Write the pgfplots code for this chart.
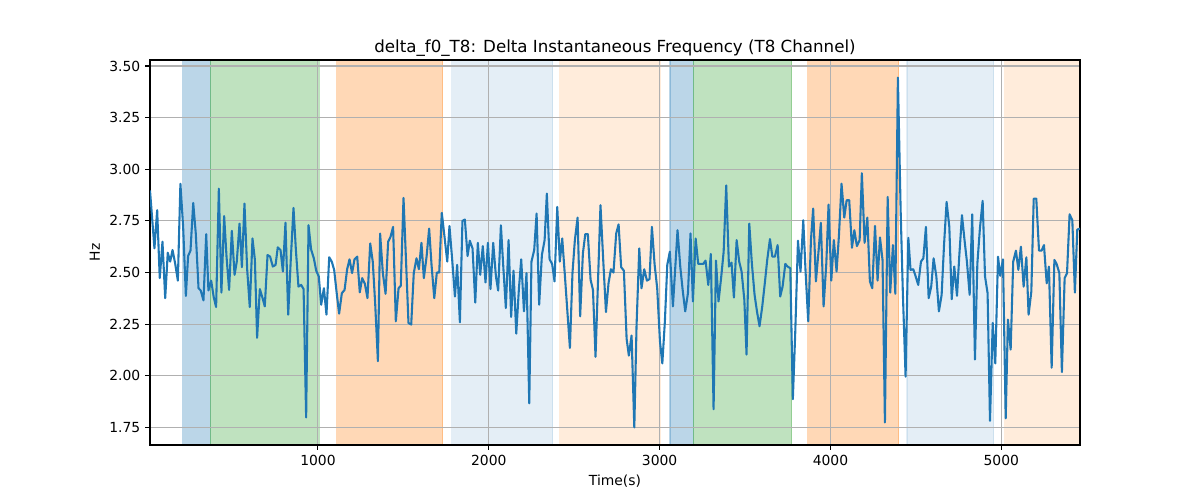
\documentclass[border=0pt]{standalone}
\usepackage{fontspec}
\setmainfont{DejaVu Sans}
\usepackage{pgfplots}
\pgfplotsset{compat=1.18}
\definecolor{tabblue}{HTML}{1F77B4}
\definecolor{tabgreen}{HTML}{2CA02C}
\definecolor{taborange}{HTML}{FF7F0E}
\definecolor{gridgray}{HTML}{B0B0B0}
\begin{document}
\begin{tikzpicture}
\begin{axis}[
  set layers,
  at={(0,0)}, anchor=south west,
  width=669.6pt, height=277.2pt, scale only axis,
  xmin=17, xmax=5461, ymin=1.665, ymax=3.529,
  xtick={1000,2000,3000,4000,5000},
  ytick={1.75,2,2.25,2.5,2.75,3,3.25,3.5},
  scaled ticks=false,
  /pgf/number format/assume math mode=true,
  xticklabel style={/pgf/number format/1000 sep={}},
  yticklabel style={/pgf/number format/.cd, fixed, fixed zerofill, precision=2},
  tick label style={font=\fontsize{10}{12}\selectfont},
  label style={font=\fontsize{10}{12}\selectfont},
  title style={font=\fontsize{12}{14}\selectfont, yshift=-7.2pt},
  title={delta\_f0\_T8: Delta Instantaneous Frequency (T8 Channel)},
  xlabel={Time(s)}, ylabel={Hz},
  grid=major,
  major grid style={draw=gridgray, line width=0.8pt},
  axis line style={line width=0.8pt},
  tick style={line width=0.8pt, black},
  tick align=outside, major tick length=3.5pt,
  xtick pos=bottom, ytick pos=left,
]
\addplot[on layer=axis background, fill=tabblue, draw=tabblue, opacity=0.3, line width=0.8pt] coordinates {(209,1.665) (209,3.529) (371,3.529) (371,1.665)} -- cycle;
\addplot[on layer=axis background, fill=tabgreen, draw=tabgreen, opacity=0.3, line width=0.8pt] coordinates {(371,1.665) (371,3.529) (1009,3.529) (1009,1.665)} -- cycle;
\addplot[on layer=axis background, fill=taborange, draw=taborange, opacity=0.3, line width=0.8pt] coordinates {(1111,1.665) (1111,3.529) (1731,3.529) (1731,1.665)} -- cycle;
\addplot[on layer=axis background, fill=tabblue, draw=tabblue, opacity=0.12, line width=0.8pt] coordinates {(1784,1.665) (1784,3.529) (2375,3.529) (2375,1.665)} -- cycle;
\addplot[on layer=axis background, fill=taborange, draw=taborange, opacity=0.15, line width=0.8pt] coordinates {(2416,1.665) (2416,3.529) (3003,3.529) (3003,1.665)} -- cycle;
\addplot[on layer=axis background, fill=tabblue, draw=tabblue, opacity=0.3, line width=0.8pt] coordinates {(3061,1.665) (3061,3.529) (3197,3.529) (3197,1.665)} -- cycle;
\addplot[on layer=axis background, fill=tabgreen, draw=tabgreen, opacity=0.3, line width=0.8pt] coordinates {(3197,1.665) (3197,3.529) (3773,3.529) (3773,1.665)} -- cycle;
\addplot[on layer=axis background, fill=taborange, draw=taborange, opacity=0.3, line width=0.8pt] coordinates {(3868,1.665) (3868,3.529) (4400,3.529) (4400,1.665)} -- cycle;
\addplot[on layer=axis background, fill=tabblue, draw=tabblue, opacity=0.12, line width=0.8pt] coordinates {(4448,1.665) (4448,3.529) (4955,3.529) (4955,1.665)} -- cycle;
\addplot[on layer=axis background, fill=taborange, draw=taborange, opacity=0.15, line width=0.8pt] coordinates {(5021,1.665) (5021,3.529) (5461,3.529) (5461,1.665)} -- cycle;
\addplot[tabblue, line width=1.5pt, line join=round, mark=none] table {
x y
17 2.898
43 2.617
59 2.802
74 2.473
90 2.649
106 2.376
121 2.596
135 2.553
149 2.609
164 2.545
180 2.461
195 2.930
211 2.721
227 2.387
240 2.580
254 2.606
270 2.837
285 2.689
301 2.424
314 2.413
330 2.365
346 2.686
359 2.413
375 2.461
390 2.381
404 2.333
420 2.906
435 2.403
451 2.773
465 2.577
480 2.416
496 2.702
512 2.489
525 2.553
541 2.737
555 2.526
570 2.834
586 2.513
601 2.333
617 2.665
631 2.561
644 2.184
660 2.420
676 2.376
689 2.336
705 2.585
720 2.577
736 2.529
752 2.537
765 2.622
781 2.609
795 2.505
810 2.741
826 2.296
841 2.561
857 2.813
871 2.609
886 2.432
902 2.440
916 2.420
931 1.798
945 2.729
960 2.612
976 2.569
990 2.509
1005 2.481
1019 2.344
1035 2.424
1050 2.296
1066 2.574
1081 2.553
1095 2.513
1111 2.392
1124 2.301
1140 2.400
1156 2.416
1171 2.516
1185 2.564
1200 2.497
1214 2.564
1230 2.577
1245 2.404
1259 2.473
1275 2.445
1290 2.376
1306 2.641
1321 2.553
1335 2.352
1351 2.071
1364 2.689
1380 2.497
1396 2.397
1411 2.649
1425 2.673
1440 2.721
1456 2.264
1472 2.424
1485 2.436
1501 2.861
1517 2.529
1530 2.256
1546 2.248
1561 2.497
1577 2.569
1591 2.516
1606 2.644
1620 2.473
1636 2.577
1651 2.713
1665 2.537
1681 2.376
1696 2.500
1710 2.500
1725 2.789
1741 2.673
1757 2.553
1770 2.725
1786 2.561
1802 2.384
1815 2.537
1831 2.259
1846 2.750
1860 2.757
1876 2.580
1889 2.654
1905 2.617
1921 2.355
1936 2.644
1950 2.489
1965 2.628
1981 2.452
1995 2.644
2010 2.420
2026 2.644
2042 2.481
2055 2.413
2071 2.729
2085 2.529
2100 2.328
2116 2.657
2131 2.285
2145 2.509
2161 2.204
2176 2.416
2190 2.564
2206 2.312
2221 2.497
2237 1.867
2250 2.553
2266 2.609
2280 2.786
2295 2.344
2311 2.585
2327 2.657
2340 2.882
2356 2.564
2371 2.542
2385 2.457
2401 2.818
2416 2.553
2430 2.665
2446 2.481
2475 2.135
2490 2.497
2504 2.657
2520 2.766
2535 2.288
2551 2.593
2565 2.686
2580 2.686
2596 2.465
2610 2.416
2625 2.092
2641 2.497
2654 2.826
2670 2.561
2686 2.309
2701 2.448
2715 2.516
2730 2.500
2746 2.689
2760 2.733
2775 2.526
2791 2.509
2807 2.179
2820 2.098
2836 2.195
2852 1.750
2865 2.240
2881 2.617
2894 2.424
2910 2.516
2926 2.461
2941 2.468
2955 2.721
2971 2.537
2986 2.424
3002 2.168
3016 2.060
3031 2.264
3045 2.537
3060 2.601
3078 2.336
3105 2.705
3121 2.529
3135 2.416
3150 2.312
3166 2.400
3181 2.689
3195 2.360
3211 2.665
3226 2.542
3240 2.542
3256 2.542
3269 2.558
3285 2.440
3300 2.590
3316 1.838
3330 2.558
3345 2.360
3361 2.481
3375 2.601
3390 2.922
3406 2.529
3421 2.548
3435 2.379
3451 2.657
3466 2.553
3480 2.505
3496 2.368
3509 2.103
3525 2.737
3540 2.545
3556 2.392
3570 2.312
3585 2.240
3601 2.336
3617 2.457
3630 2.561
3646 2.662
3660 2.577
3675 2.577
3691 2.633
3706 2.384
3720 2.432
3736 2.542
3749 2.529
3765 2.521
3780 1.887
3794 2.208
3810 2.654
3825 2.505
3841 2.753
3855 2.497
3870 2.264
3886 2.657
3899 2.810
3915 2.457
3931 2.609
3944 2.741
3960 2.336
3976 2.545
3989 2.829
4005 2.461
4020 2.657
4036 2.505
4050 2.681
4065 2.930
4081 2.766
4095 2.850
4110 2.850
4126 2.620
4140 2.705
4155 2.628
4171 2.657
4184 2.981
4200 2.644
4216 2.766
4231 2.457
4245 2.424
4261 2.726
4276 2.461
4290 2.670
4305 2.561
4319 1.774
4335 2.866
4350 2.403
4366 2.633
4380 2.397
4395 3.444
4411 2.802
4424 2.400
4440 1.996
4456 2.668
4469 2.513
4485 2.516
4499 2.481
4514 2.440
4530 2.553
4544 2.569
4559 2.721
4575 2.376
4590 2.432
4604 2.569
4620 2.481
4635 2.312
4651 2.392
4665 2.633
4680 2.842
4696 2.721
4710 2.371
4725 2.529
4741 2.387
4754 2.577
4770 2.778
4786 2.649
4799 2.553
4815 2.392
4830 2.782
4846 2.079
4860 2.542
4875 2.713
4891 2.847
4905 2.481
4920 2.400
4934 1.782
4950 2.256
4965 2.060
4981 2.577
4994 2.484
5010 2.564
5026 1.794
5039 2.272
5055 2.127
5070 2.553
5086 2.606
5100 2.513
5115 2.625
5131 2.432
5147 2.574
5160 2.296
5176 2.408
5190 2.858
5205 2.858
5221 2.606
5236 2.606
5250 2.633
5266 2.448
5279 2.529
5295 2.039
5311 2.561
5324 2.542
5340 2.497
5355 2.018
5371 2.473
5385 2.497
5400 2.782
5416 2.753
5431 2.403
5445 2.708
5461 2.713
};
\end{axis}
\pgfresetboundingbox
\path (-108pt,-39.6pt) rectangle (756pt,320.4pt);
\end{tikzpicture}
\end{document}
